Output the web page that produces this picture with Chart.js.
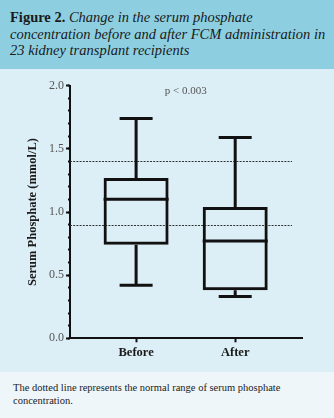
<!DOCTYPE html>
<html>
<head>
<meta charset="utf-8">
<script src="https://cdn.jsdelivr.net/npm/chart.js@4/dist/chart.umd.min.js"></script>
<style>
  html, body { margin: 0; padding: 0; }
  body { width: 334px; height: 418px; overflow: hidden; background: #dceef6; }
  #hdr { position: absolute; left: 0; top: 0; width: 334px; height: 69px; box-sizing: border-box;
         background: #8dcfe1; padding: 9px 0 0 10px; font-family: "Liberation Serif", serif;
         font-size: 14.5px; line-height: 16.5px; color: #1a1a1a; white-space: nowrap; }
  #hdr b { font-weight: bold; }
  #wrap { position: absolute; left: 0; top: 69px; width: 334px; height: 303px; background: #dceef6; }
  #cap { position: absolute; left: 0; top: 372px; width: 334px; height: 46px; box-sizing: border-box;
         background: #eef6fa; padding: 10px 0 0 13px; font-family: "Liberation Serif", serif;
         font-size: 10.5px; line-height: 12.7px; color: #1a1a1a; white-space: nowrap; }
</style>
</head>
<body>
<div id="hdr"><b>Figure 2.</b> <i>Change in the serum phosphate<br>concentration before and after FCM administration in<br>23 kidney transplant recipients</i></div>
<div id="wrap"><canvas id="c" width="334" height="303"></canvas></div>
<div id="cap">The dotted line represents the normal range of serum phosphate<br>concentration.</div>
<script>
// ---- data ----
const categories = ["Before", "After"];
const whiskerMin = [0.42, 0.33];
const q1Values   = [0.74, 0.38];
const medians    = [1.10, 0.77];
const q3Values   = [1.27, 1.04];
const whiskerMax = [1.74, 1.59];
const normalRange = [0.9, 1.4];
const yTickLabels = ["0.0", "0.5", "1.0", "1.5", "2.0"];
const pValueText = "p < 0.003";

const INK = "#111";
const boxData = categories.map((c, i) => ({ x: i, y: [q1Values[i], q3Values[i]] }));

const boxPlugin = {
  id: "boxExtras",
  beforeDatasetsDraw(chart) {
    const { ctx, chartArea, scales } = chart;
    const y = scales.y;
    ctx.save();
    ctx.strokeStyle = "#333";
    ctx.lineWidth = 1;
    ctx.setLineDash([2, 1.2]);
    normalRange.forEach(v => {
      const py = Math.round(y.getPixelForValue(v)) + 0.5;
      ctx.beginPath();
      ctx.moveTo(chartArea.left, py);
      ctx.lineTo(chartArea.right - 10, py);
      ctx.stroke();
    });
    ctx.restore();
  },
  afterDatasetsDraw(chart) {
    const { ctx, chartArea, scales } = chart;
    const x = scales.x, y = scales.y;
    const meta = chart.getDatasetMeta(0);
    ctx.save();
    ctx.strokeStyle = INK;
    ctx.lineWidth = 3;
    ctx.lineCap = "butt";
    categories.forEach((c, i) => {
      const bar = meta.data[i];
      const cx = bar.x;
      const half = bar.width / 2;
      const capHalf = 16.5;
      const pMin = y.getPixelForValue(whiskerMin[i]);
      const pQ1 = y.getPixelForValue(q1Values[i]);
      const pMed = y.getPixelForValue(medians[i]);
      const pQ3 = y.getPixelForValue(q3Values[i]);
      const pMax = y.getPixelForValue(whiskerMax[i]);
      ctx.beginPath();
      ctx.moveTo(cx, pQ3); ctx.lineTo(cx, pMax);
      ctx.moveTo(cx, pQ1); ctx.lineTo(cx, pMin);
      ctx.moveTo(cx - capHalf, pMax); ctx.lineTo(cx + capHalf, pMax);
      ctx.moveTo(cx - capHalf, pMin); ctx.lineTo(cx + capHalf, pMin);
      ctx.moveTo(cx - half, pMed); ctx.lineTo(cx + half, pMed);
      ctx.stroke();
    });
    ctx.fillStyle = "#555";
    ctx.font = '11px "Liberation Serif", serif';
    ctx.textAlign = "center";
    ctx.textBaseline = "middle";
    ctx.fillText(pValueText, x.getPixelForValue(0.5), chartArea.top + 5);
    ctx.restore();
  }
};

new Chart(document.getElementById("c"), {
  type: "bar",
  data: {
    datasets: [{
      data: boxData,
      backgroundColor: "rgba(0,0,0,0)",
      borderColor: INK,
      borderWidth: 3,
      borderSkipped: false,
      barThickness: 65,
      inflateAmount: 0,
      xAxisID: "x",
      yAxisID: "y"
    }]
  },
  options: {
    responsive: false,
    animation: false,
    events: [],
    layout: { padding: { top: 16.7, right: 32, bottom: 0, left: 0 } },
    plugins: { legend: { display: false }, tooltip: { enabled: false } },
    scales: {
      x: {
        type: "linear",
        position: "bottom",
        offset: false,
        bounds: "data",
        min: -0.667,
        max: 1.674,
        afterBuildTicks(axis) { axis.ticks = categories.map((c, i) => ({ value: i })); },
        afterFit(axis) { axis.height = 33.7; },
        grid: { offset: false, drawOnChartArea: false, drawTicks: true, tickLength: 4, tickWidth: 2, tickColor: INK },
        border: { display: true, color: INK, width: 2 },
        ticks: {
          padding: 3,
          color: "#1a1a1a",
          font: { family: '"Liberation Serif", serif', size: 12.5, weight: "bold" },
          callback: (v) => categories[v] ?? ""
        }
      },
      y: {
        type: "linear",
        position: "left",
        weight: 1,
        min: 0,
        max: 2,
        afterBuildTicks(axis) { axis.ticks = yTickLabels.map(t => ({ value: parseFloat(t) })); },
        afterFit(axis) { axis.width = 70; },
        grid: { drawOnChartArea: false, drawTicks: true, tickLength: 4, tickWidth: 2, tickColor: INK },
        border: { display: true, color: INK, width: 2 },
        ticks: {
          padding: 2,
          color: "#555",
          font: { family: '"Liberation Serif", serif', size: 12 },
          callback: (v) => yTickLabels.find(t => parseFloat(t) === v) ?? ""
        },
        title: {
          display: true,
          text: "Serum Phosphate (mmol/L)",
          color: "#1a1a1a",
          font: { family: '"Liberation Serif", serif', size: 12.5, weight: "bold" },
          padding: { top: 25, bottom: 0 }
        }
      },
      yMinor: {
        type: "linear",
        position: "left",
        weight: 0,
        min: 0,
        max: 2,
        ticks: { stepSize: 0.1, display: false },
        afterFit(axis) { axis.width = 0; },
        grid: { drawOnChartArea: false, drawTicks: true, tickLength: 2, tickWidth: 2, tickColor: INK },
        border: { display: false }
      }
    }
  },
  plugins: [boxPlugin]
});
</script>
</body>
</html>
